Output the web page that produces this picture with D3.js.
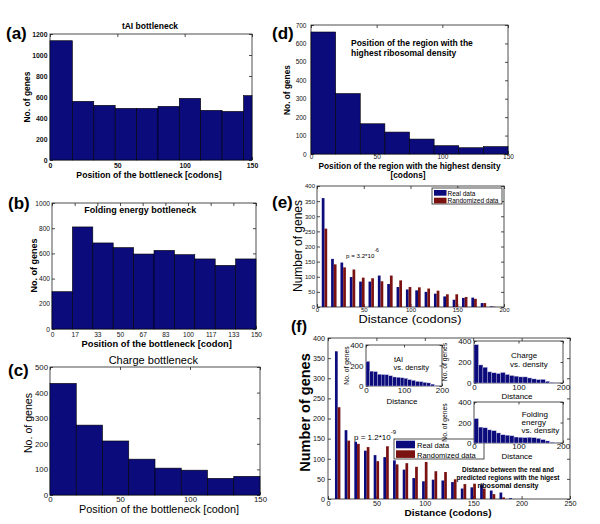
<!DOCTYPE html>
<html><head><meta charset="utf-8">
<script src="https://cdn.jsdelivr.net/npm/d3@7/dist/d3.min.js"></script>
<style>body{margin:0;background:#fff}svg{display:block}</style>
</head><body>
<svg id="c" width="600" height="524"></svg>
<script>
// ---------------- data ----------------
const aEdges = [0,16.6,32.5,48.4,64.3,80.2,96,111.9,127.8,143.7,150];
const aCounts = [1136,559,521,492,492,511,587,473,463,613];
const aYTicks = [0,200,400,600,800,1000,1200];
const aXTicks = [0,50,100,150];

const bEdges = [0,15,30,45,60,75,90,105,120,135,150];
const bCounts = [296,810,683,646,595,624,590,556,505,556];
const bYTicks = [0,200,400,600,800,1000];
const bXTicks = [0,16.67,33.33,50,66.67,83.33,100,116.67,133.33,150];
const bXTickLabels = ["0","17","33","50","67","83","100","117","133","150"];

const cEdges = [0,18.75,37.5,56.25,75,93.75,112.5,131.25,150];
const cCounts = [436,273,211,140,105,97,65,73];
const cYTicks = [0,100,200,300,400,500];
const cXTicks = [0,50,100,150];

const dEdges = [0,18.75,37.5,56.25,75,93.75,112.5,131.25,150];
const dCounts = [662,328,164,119,81,45,34,40];
const dYTicks = [0,100,200,300,400,500,600,700];
const dXTicks = [0,50,100,150];

const eCenters = [8,18,28,38,48,58,68,78,88,98,108,118,128,138,148,158,168,178,188];
const eReal = [360,159,147,99,84,84,104,76,66,58,55,50,44,35,24,30,31,13,2];
const eRand = [259,141,131,124,97,95,85,104,88,66,65,61,54,42,42,33,27,13,1];
const eYTicks = [0,50,100,150,200,250,300,350,400];
const eXTicks = [0,50,100,150,200];

const fCenters = [10,20,30,40,50,60,70,80,90,100,110,120,130,140,150,160,170,180,190];
const fReal = [367,171,142,120,109,104,96,73,52,44,48,46,42,26,29,36,21,16,2];
const fRand = [228,145,137,129,94,131,86,89,80,92,69,67,49,37,38,26,12,4,0];
const fYTicks = [0,50,100,150,200,250,300,350,400];
const fXTicks = [0,50,100,150,200,250];

const insetEdges = [0,10,20,30,40,50,60,70,80,90,100,110,120,130,140,150,160,170,180,190];
const tAIInset = [240,145,140,115,112,110,100,88,85,80,75,62,55,45,42,35,30,18,4];
const chargeInset = [365,172,150,106,97,90,100,81,71,65,58,58,48,39,32,34,16,6,2];
const foldInset = [238,155,148,128,120,98,80,76,70,58,55,52,55,52,45,33,20,8,1];
const insetXTicks = [0,100,200];
const insetYTicks = [0,200,400];

// ---------------- helpers ----------------
const svg = d3.select("#c");
const NAVY = "#0b0b7c", RED = "#7a1212";
const FONT = "'Liberation Sans', Arial, Helvetica, sans-serif";

function txt(x, y, s, o = {}) {
  const t = svg.append("text").attr("x", x).attr("y", y)
    .attr("font-family", o.ff || FONT).attr("font-size", o.fs || 10)
    .attr("font-weight", o.fw || "normal").attr("text-anchor", o.anchor || "start")
    .attr("fill", "#000").text(s);
  if (o.len) t.attr("textLength", o.len).attr("lengthAdjust", "spacingAndGlyphs");
  if (o.rot) t.attr("transform", `rotate(-90,${x},${y})`);
  return t;
}

function drawAxes(x, y, o) {
  const g = svg.append("g");
  const [x0, x1] = x.range(), [yb, yt] = y.range();
  const t = o.tick || 3;
  if (o.bg) g.append("rect").attr("x", x0).attr("y", yt).attr("width", x1 - x0).attr("height", yb - yt).attr("fill", "#fff");
  g.append("g").attr("transform", `translate(0,${yb})`)
    .call(d3.axisBottom(x).tickValues(o.xTicks).tickSize(-t).tickPadding(o.xPad)
      .tickFormat((d, i) => o.xLabels ? o.xLabels[i] : d));
  g.append("g").attr("transform", `translate(${x0},0)`)
    .call(d3.axisLeft(y).tickValues(o.yTicks).tickSize(-t).tickPadding(o.yPad).tickFormat(d => d));
  g.append("g").attr("transform", `translate(0,${yt})`)
    .call(d3.axisTop(x).tickValues(o.xTicks).tickSize(-t).tickFormat(""));
  g.append("g").attr("transform", `translate(${x1},0)`)
    .call(d3.axisRight(y).tickValues(o.yTicks).tickSize(-t).tickFormat(""));
  g.selectAll(".domain").remove();
  g.selectAll(".tick line").attr("stroke", "#222").attr("stroke-width", 0.8);
  g.selectAll("text").attr("font-family", FONT).attr("font-size", o.fs)
    .attr("font-weight", o.bold ? "bold" : "normal").attr("fill", "#111");
  g.append("rect").attr("x", x0).attr("y", yt).attr("width", x1 - x0).attr("height", yb - yt)
    .attr("fill", "none").attr("stroke", "#222").attr("stroke-width", 0.8);
  return g;
}

function histBars(x, y, edges, counts, stroke, sw) {
  svg.append("g").selectAll("rect").data(counts).join("rect")
    .attr("x", (d, i) => x(edges[i]))
    .attr("width", (d, i) => x(edges[i + 1]) - x(edges[i]))
    .attr("y", d => y(d)).attr("height", d => y(0) - y(d))
    .attr("fill", NAVY).attr("stroke", stroke || "#000").attr("stroke-width", sw || 0.6);
}

function groupBars(x, y, centers, real, rand, frac) {
  const w = (x(10) - x(0)) * frac;
  const g = svg.append("g");
  g.selectAll(".r").data(real).join("rect")
    .attr("x", (d, i) => x(centers[i]) - w).attr("width", w)
    .attr("y", d => y(d)).attr("height", d => y(0) - y(d)).attr("fill", NAVY);
  g.selectAll(".m").data(rand).join("rect")
    .attr("x", (d, i) => x(centers[i])).attr("width", w)
    .attr("y", d => y(d)).attr("height", d => y(0) - y(d)).attr("fill", RED);
}

function legend(bx, by, bw, bh, sw, sh, tx, rows, fs) {
  svg.append("rect").attr("x", bx).attr("y", by).attr("width", bw).attr("height", bh)
    .attr("fill", "#fff").attr("stroke", "#222").attr("stroke-width", 0.8);
  rows.forEach(r => {
    svg.append("rect").attr("x", bx + 2).attr("y", r.y).attr("width", sw).attr("height", sh).attr("fill", r.c);
    txt(tx, r.base, r.label, { fs: fs });
  });
}

// ---------------- (a) ----------------
{
  const x = d3.scaleLinear().domain([0, 150]).range([50, 252]);
  const y = d3.scaleLinear().domain([0, 1200]).range([160, 34]);
  drawAxes(x, y, { xTicks: aXTicks, yTicks: aYTicks, fs: 6.9, bold: true, xPad: 3, yPad: 2.5 });
  histBars(x, y, aEdges, aCounts);
  txt(150, 29, "tAI bottleneck", { fs: 8.5, fw: "bold", anchor: "middle" });
  txt(29.8, 97, "No. of genes", { fs: 8.5, fw: "bold", anchor: "middle", rot: true });
  txt(149, 177.5, "Position of the bottleneck [codons]", { fs: 8.7, fw: "bold", anchor: "middle" });
  txt(6, 39, "(a)", { fs: 17, fw: "bold" });
}
// ---------------- (b) ----------------
{
  const x = d3.scaleLinear().domain([0, 150]).range([52, 256]);
  const y = d3.scaleLinear().domain([0, 1000]).range([329, 203]);
  drawAxes(x, y, { xTicks: bXTicks, xLabels: bXTickLabels, yTicks: bYTicks, fs: 6.6, bold: false, xPad: 2.9, yPad: 2 });
  histBars(x, y, bEdges, bCounts);
  txt(84.3, 213, "Folding energy bottleneck", { fs: 9, fw: "bold" });
  txt(37, 265.5, "No. of genes", { fs: 9, fw: "bold", anchor: "middle", rot: true });
  txt(156.7, 347, "Position of the bottleneck [codon]", { fs: 9.3, fw: "bold", anchor: "middle" });
  txt(8, 209, "(b)", { fs: 17, fw: "bold" });
}
// ---------------- (c) ----------------
{
  const x = d3.scaleLinear().domain([0, 150]).range([50, 260]);
  const y = d3.scaleLinear().domain([0, 500]).range([495, 367]);
  drawAxes(x, y, { xTicks: cXTicks, yTicks: cYTicks, fs: 7.8, bold: false, xPad: 1, yPad: 2 });
  histBars(x, y, cEdges, cCounts);
  txt(153.3, 364, "Charge bottleneck", { fs: 11, anchor: "middle" });
  txt(32.3, 423, "No. of genes", { fs: 10.6, anchor: "middle", rot: true });
  txt(159, 512.5, "Position of the bottleneck [codon]", { fs: 10.2, anchor: "middle", len: 160 });
  txt(8, 376, "(c)", { fs: 17, fw: "bold" });
}
// ---------------- (d) ----------------
{
  const x = d3.scaleLinear().domain([0, 150]).range([311, 508]);
  const y = d3.scaleLinear().domain([0, 700]).range([154, 25]);
  drawAxes(x, y, { xTicks: dXTicks, yTicks: dYTicks, fs: 6.5, bold: false, xPad: 0.8, yPad: 4.5 });
  histBars(x, y, dEdges, dCounts);
  txt(351, 46, "Position of the region with the", { fs: 8.5, fw: "bold" });
  txt(351, 56, "highest ribosomal density", { fs: 8.5, fw: "bold" });
  txt(409.5, 168.5, "Position of the region with the highest density", { fs: 8.3, fw: "bold", anchor: "middle", len: 182 });
  txt(408, 177.5, "[codons]", { fs: 8.3, fw: "bold", anchor: "middle" });
  txt(290, 90, "No. of genes", { fs: 8.3, fw: "bold", anchor: "middle", rot: true });
  txt(272, 39, "(d)", { fs: 17, fw: "bold" });
}
// ---------------- (e) ----------------
{
  const x = d3.scaleLinear().domain([0, 200]).range([317, 504]);
  const y = d3.scaleLinear().domain([0, 400]).range([307, 186]);
  drawAxes(x, y, { xTicks: eXTicks, yTicks: eYTicks, fs: 6, bold: false, xPad: 0.4, yPad: 2 });
  groupBars(x, y, eCenters, eReal, eRand, 0.29);
  legend(432, 188, 70, 16, 12.5, 5.7, 447.5, [
    { y: 190, base: 195.8, c: NAVY, label: "Real data" },
    { y: 197.7, base: 203.3, c: RED, label: "Randomized data" }], 6.5);
  const p = txt(346, 258, "p = 3.2*10", { fs: 6.2 });
  p.append("tspan").attr("dy", -6).attr("font-size", 5).text("-6");
  txt(302, 246, "Number of genes", { fs: 12, anchor: "middle", rot: true });
  txt(410, 322.5, "Distance (codons)", { fs: 10.5, anchor: "middle", len: 103 });
  txt(272, 208, "(e)", { fs: 17, fw: "bold" });
}
// ---------------- (f) ----------------
{
  const x = d3.scaleLinear().domain([0, 250]).range([328, 570]);
  const y = d3.scaleLinear().domain([0, 400]).range([499, 338]);
  drawAxes(x, y, { xTicks: fXTicks, yTicks: fYTicks, fs: 7.2, bold: false, xPad: 2.2, yPad: 3 });
  groupBars(x, y, fCenters, fReal, fRand, 0.28);
  legend(394, 439, 90, 20, 19, 7.6, 417, [
    { y: 440.7, base: 447.7, c: NAVY, label: "Real data" },
    { y: 450.3, base: 457.5, c: RED, label: "Randomized data" }], 7.5);
  const p = txt(354, 439.5, "p =  1.2*10", { fs: 8 });
  p.append("tspan").attr("dy", -6).attr("font-size", 6).text("-9");
  const ann = ["Distance between the real and", "predicted regions with the higest", "ribosomal density"];
  const annLen = [92, 103, 61];
  [472.4, 480.2, 488].forEach((yy, i) => txt(508, yy, ann[i], { fs: 6.8, fw: "bold", anchor: "middle", len: annLen[i] }));
  txt(310, 412.5, "Number of genes", { fs: 14.5, fw: "bold", anchor: "middle", rot: true });
  txt(448, 516, "Distance (codons)", { fs: 8.8, fw: "bold", anchor: "middle", len: 87 });
  txt(291, 332, "(f)", { fs: 16, fw: "bold" });

  // insets
  const insets = [
    { xr: [366, 442], yr: [386, 345], data: tAIInset, ylx: 348.5, dx: 402, dBase: 404, xPad: 1.3, lfs: 7.5,
      lines: [["tAI", 394, 361.5], ["vs. density", 393.5, 369.6]] },
    { xr: [474, 563], yr: [383, 341], data: chargeInset, ylx: 447, dx: 517, dBase: 399, xPad: 1, lfs: 8,
      lines: [["Charge", 511, 358.3], ["vs. density", 510, 366.7]] },
    { xr: [474, 563], yr: [443, 402], data: foldInset, ylx: 447, dx: 517, dBase: 459, xPad: 0, lfs: 8,
      lines: [["Folding", 521.7, 416.7], ["energy", 521.5, 425], ["vs. density", 521.5, 433.3]] }
  ];
  insets.forEach(s => {
    const ix = d3.scaleLinear().domain([0, 200]).range(s.xr);
    const iy = d3.scaleLinear().domain([0, 400]).range(s.yr);
    drawAxes(ix, iy, { xTicks: insetXTicks, yTicks: insetYTicks, fs: 8, bold: false, xPad: s.xPad, yPad: 2.5, tick: 2.5, bg: true });
    histBars(ix, iy, insetEdges, s.data, "#c8c8e0", 0.4);
    s.lines.forEach(l => txt(l[1], l[2], l[0], { fs: s.lfs }));
    txt(s.ylx, (s.yr[0] + s.yr[1]) / 2, "No. of genes", { fs: 6.8, anchor: "middle", rot: true });
    txt(s.dx, s.dBase, "Distance", { fs: 8, anchor: "middle" });
  });
}
</script>
</body></html>
